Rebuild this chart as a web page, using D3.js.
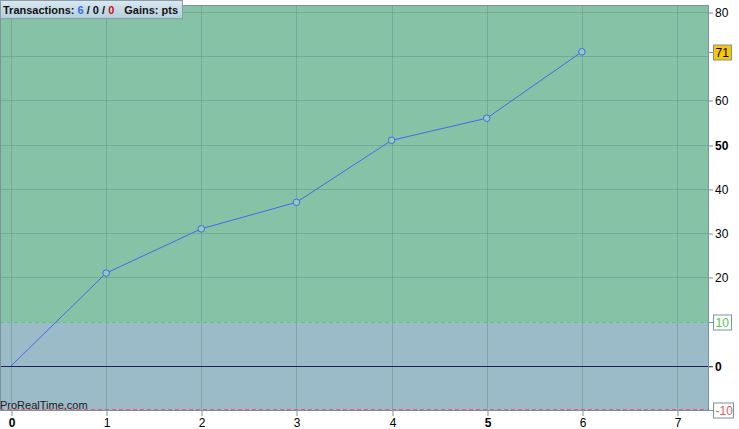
<!DOCTYPE html>
<html>
<head>
<style>
  body { margin: 0; background: #fff; }
  svg { display: block; font-family: "Liberation Sans", Arial, sans-serif; }
</style>
</head>
<body>
<script src="https://d3js.org/d3.v7.min.js"></script>
<script>
// trade number vs cumulative gains (pts)
const trades = [0, 1, 2, 3, 4, 5, 6];
const gains = [0, 21, 31, 37, 51, 56, 71];
const xTicks = [0, 1, 2, 3, 4, 5, 6, 7];
const yTicks = [-10, 0, 10, 20, 30, 40, 50, 60, 70, 80];
const boldX = [0, 5];
const boldY = [0, 50];
const upperLevel = 10, lowerLevel = -10;

const W = 739, H = 429;
const pLeft = 0, pRight = 709, pTop = 5, pBottom = 411;

const svg = d3.select("body").append("svg").attr("width", W).attr("height", H);

const x = d3.scaleLinear().domain([-0.1156, 7.336]).range([pLeft, pRight]);
const y = d3.scaleLinear().domain([-10.17, 81.58]).range([pBottom, pTop]);
const px = v => Math.round(v) + 0.5;

// background zones
svg.append("rect")
  .attr("x", pLeft).attr("y", pTop)
  .attr("width", pRight - pLeft).attr("height", Math.round(y(upperLevel)) - pTop)
  .attr("fill", "#86c2a6");
svg.append("rect")
  .attr("x", pLeft).attr("y", Math.round(y(upperLevel)))
  .attr("width", pRight - pLeft).attr("height", pBottom - Math.round(y(upperLevel)))
  .attr("fill", "#9bbbc8");

// grid
svg.append("g").selectAll("line").data(xTicks).enter().append("line")
  .attr("x1", d => px(x(d))).attr("x2", d => px(x(d)))
  .attr("y1", pTop).attr("y2", pBottom)
  .attr("stroke", "#5f8f86").attr("stroke-opacity", 0.45);
svg.append("g").selectAll("line").data(yTicks.filter(d => d > 0 && d !== upperLevel)).enter().append("line")
  .attr("x1", pLeft).attr("x2", pRight)
  .attr("y1", d => px(y(d))).attr("y2", d => px(y(d)))
  .attr("stroke", "#5f8f86").attr("stroke-opacity", 0.45);

// level lines
svg.append("line")
  .attr("x1", pLeft).attr("x2", pRight)
  .attr("y1", px(y(upperLevel))).attr("y2", px(y(upperLevel)))
  .attr("stroke", "#5fc46f").attr("stroke-dasharray", "4,3");
svg.append("line")
  .attr("x1", pLeft).attr("x2", pRight)
  .attr("y1", px(y(lowerLevel)) - 1).attr("y2", px(y(lowerLevel)) - 1)
  .attr("stroke", "#e0607a").attr("stroke-dasharray", "4,3");
svg.append("line")
  .attr("x1", pLeft).attr("x2", pRight + 4)
  .attr("y1", px(y(0))).attr("y2", px(y(0)))
  .attr("stroke", "#1c2260");

// frame
svg.append("rect")
  .attr("x", pLeft + 0.5).attr("y", pTop + 0.5)
  .attr("width", pRight - pLeft - 1).attr("height", pBottom - pTop - 1)
  .attr("fill", "none").attr("stroke", "#7d939c");

// axes
const xAxis = svg.append("g")
  .attr("transform", `translate(0.5,${pBottom})`)
  .call(d3.axisBottom(x.copy().interpolate(d3.interpolateRound)).tickValues(xTicks).tickSize(5).tickFormat(d3.format("d")));
xAxis.select(".domain").remove();
xAxis.selectAll("line").attr("stroke", "#7d939c");
xAxis.selectAll("text")
  .attr("fill", "#000").attr("y", 7)
  .style("font-size", "12px")
  .style("font-family", "Liberation Sans, Arial, sans-serif")
  .style("font-weight", d => boldX.includes(d) ? "bold" : "normal");

const yAxis = svg.append("g")
  .attr("transform", `translate(${pRight},0.5)`)
  .call(d3.axisRight(y.copy().interpolate(d3.interpolateRound)).tickValues(yTicks.filter(d => d !== upperLevel && d !== lowerLevel && d !== 70)).tickSize(4).tickPadding(2).tickFormat(d3.format("d")));
yAxis.select(".domain").remove();
yAxis.selectAll("line").attr("stroke", "#7d939c");
yAxis.selectAll("text")
  .attr("fill", "#000")
  .style("font-size", "12px")
  .style("font-family", "Liberation Sans, Arial, sans-serif")
  .style("font-weight", d => boldY.includes(d) ? "bold" : "normal");

// boxed value labels on the right
function tag(v, txt, fill, color, w) {
  const g = svg.append("g").attr("transform", `translate(${pRight + 4},${px(y(v))})`);
  g.append("line").attr("x1", -4).attr("x2", 0).attr("stroke", "#7d939c");
  g.append("rect").attr("x", 0.5).attr("y", -7.5).attr("width", w).attr("height", 15)
    .attr("fill", fill).attr("stroke", "#7d939c");
  g.append("text").attr("x", 2.5).attr("y", 4).attr("fill", color)
    .style("font-size", "12px").text(txt);
}
tag(upperLevel, "10", "#fff", "#44cc44", 18);
tag(lowerLevel, "-10", "#fff", "#e06060", 20);
tag(gains[gains.length - 1], String(gains[gains.length - 1]), "#f5c800", "#000", 18);

// gains line
svg.append("path")
  .datum(trades.map((t, i) => [t, gains[i]]))
  .attr("fill", "none").attr("stroke", "#3f6af2").attr("stroke-width", 1)
  .attr("d", d3.line().x(d => x(d[0])).y(d => y(d[1])));
svg.append("g").selectAll("circle").data(trades.slice(1)).enter().append("circle")
  .attr("cx", d => x(d)).attr("cy", (d, i) => y(gains[i + 1]))
  .attr("r", 3.3)
  .attr("fill", "#94cbb4").attr("stroke", "#3f6af2");

// watermark
svg.append("text").attr("x", 0).attr("y", 409)
  .attr("fill", "#1a1a1a").style("font-size", "11px").text("ProRealTime.com");

// header box
const hdr = svg.append("g");
const grad = svg.append("defs").append("linearGradient").attr("id", "hg")
  .attr("x1", 0).attr("x2", 0).attr("y1", 0).attr("y2", 1);
grad.append("stop").attr("offset", 0).attr("stop-color", "#d9e8f0");
grad.append("stop").attr("offset", 1).attr("stop-color", "#b4cfdc");
const hbox = hdr.append("rect").attr("x", 0.5).attr("y", 0.5).attr("height", 18)
  .attr("fill", "url(#hg)").attr("stroke", "#8a9ca6");
const ht = hdr.append("text").attr("x", 3).attr("y", 14)
  .style("font-size", "11px").style("font-weight", "bold").attr("fill", "#111");
ht.append("tspan").text("Transactions: ");
ht.append("tspan").attr("fill", "#3a6cf0").text("6");
ht.append("tspan").text(" / 0 / ");
ht.append("tspan").attr("fill", "#cc1111").text("0");
ht.append("tspan").attr("dx", 10).text("Gains: pts");
const bb = ht.node().getBBox();
hbox.attr("width", Math.ceil(bb.x + bb.width + 3));
</script>
</body>
</html>
